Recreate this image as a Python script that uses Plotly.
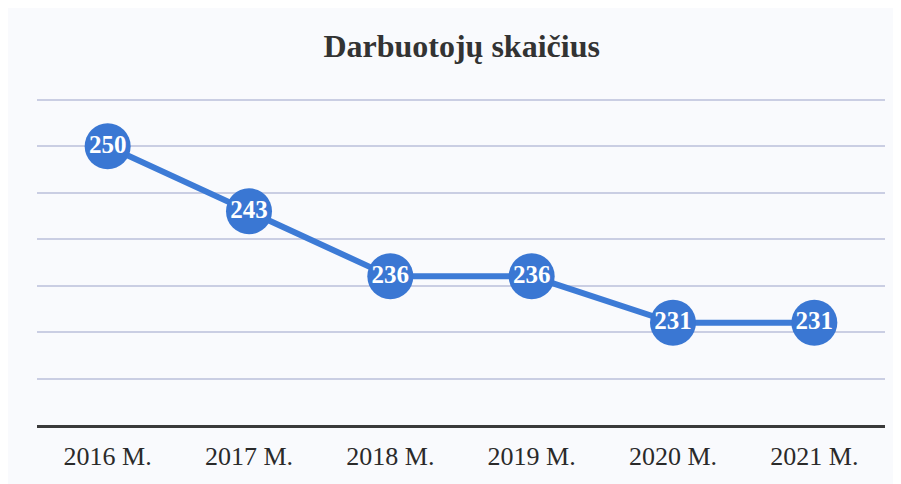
import plotly.graph_objects as go

categories = ["2016 M.", "2017 M.", "2018 M.", "2019 M.", "2020 M.", "2021 M."]
values = [250, 243, 236, 236, 231, 231]
title_text = "Darbuotojų skaičius"

fig = go.Figure()
fig.add_trace(go.Scatter(
    x=categories, y=values,
    mode="lines+markers+text",
    line=dict(color="#3d7bd6", width=6),
    marker=dict(size=46, color="#3a77d3", line=dict(width=0)),
    text=[str(v) for v in values],
    textposition="middle center",
    textfont=dict(family="Liberation Serif", size=25, color="white", weight="bold"),
    cliponaxis=False,
    hoverinfo="skip",
))

fig.update_layout(
    width=893, height=476,
    margin=dict(l=29, r=16, t=90, b=59),
    paper_bgcolor="#f9fafd",
    plot_bgcolor="rgba(0,0,0,0)",
    showlegend=False,
    title=dict(text="<b>" + title_text + "</b>", x=0.508, xanchor="center", y=0.92, yanchor="middle",
               font=dict(family="Liberation Serif", size=32, color="#333333")),
    xaxis=dict(
        type="category", range=[-0.5, 5.5], showgrid=False,
        showline=True, linecolor="#3a3a3a", linewidth=3,
        ticks="", tickfont=dict(family="Liberation Serif", size=26, color="#2a2a2a"),
        ticklabelstandoff=6, zeroline=False, fixedrange=True,
    ),
    yaxis=dict(
        range=[220, 255.2], dtick=5, showticklabels=False, showgrid=True,
        gridcolor="#cacee3", gridwidth=2, zeroline=False, showline=False, ticks="",
    ),
)

fig.write_html("out.html")
